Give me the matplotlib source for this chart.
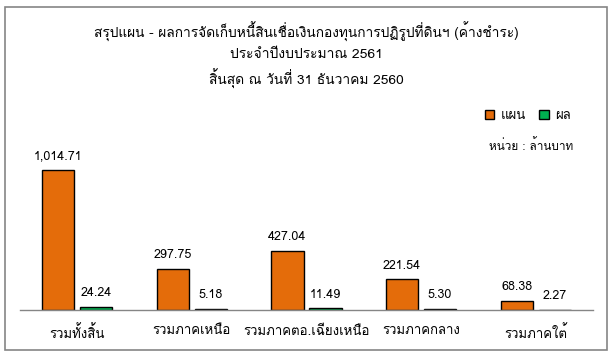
import matplotlib
matplotlib.use("Agg")
import matplotlib.pyplot as plt
from matplotlib.patches import Rectangle
import numpy as np

categories = ['รวมทั้งสิ้น', 'รวมภาคเหนือ', 'รวมภาคตอ.เฉียงเหนือ', 'รวมภาคกลาง', 'รวมภาคใต้']
plan = [1014.71, 297.75, 427.04, 221.54, 68.38]
result = [24.24, 5.18, 11.49, 5.30, 2.27]
series_names = ['แผน', 'ผล']
title_lines = ['สรุปแผน - ผลการจัดเก็บหนี้สินเชื่อเงินกองทุนการปฏิรูปที่ดินฯ (ค้างชำระ)',
               'ประจำปีงบประมาณ 2561',
               'สิ้นสุด ณ วันที่ 31 ธันวาคม 2560']
unit_text = 'หน่วย : ล้านบาท'

FONT = ['Loma', 'Noto Sans Thai Looped', 'DejaVu Sans']
plt.rcParams['font.family'] = FONT

W, H = 613, 356
fig = plt.figure(figsize=(W / 100, H / 100), dpi=100)
fig.patch.set_facecolor('white')

# outer chart border
fig.patches.append(Rectangle((5 / W, 1 - 350 / H), 602 / W, 343 / H, transform=fig.transFigure,
                             fill=False, edgecolor='#858585', linewidth=1.2))

ax = fig.add_axes([20 / W, 1 - 310 / H, 573 / W, 160 / H])
x = np.arange(len(categories))
bw = 0.28
off = 0.166
b1 = ax.bar(x - off, plan, bw, color='#E46C0A', edgecolor='black', linewidth=1.0, label=series_names[0])
b2 = ax.bar(x + off, result, bw, color='#00B050', edgecolor='black', linewidth=1.0, label=series_names[1])

ax.set_xlim(-0.5, len(categories) - 0.5)
ax.set_ylim(0, 160 / (140 / 1014.71))
for s in ['top', 'right', 'left']:
    ax.spines[s].set_visible(False)
ax.spines['bottom'].set_color('#858585')
ax.spines['bottom'].set_linewidth(1.0)
ax.set_yticks([])
ax.set_xticks(x)
ax.set_xticklabels(categories, fontsize=9.5)
ax.tick_params(axis='x', length=0, pad=11)

for bars, vals in ((b1, plan), (b2, result)):
    for rect, v in zip(bars, vals):
        ax.annotate(f'{v:,.2f}', (rect.get_x() + rect.get_width() / 2, rect.get_height()),
                    xytext=(0, 10), textcoords='offset points', ha='center', va='center',
                    fontsize=9)

# title lines, sized to the widths seen in the reference
renderer = fig.canvas.get_renderer()
for line, yy, target_w in zip(title_lines, (32, 55, 79), (426, 153, 195)):
    t = fig.text(306 / W, 1 - yy / H, line, ha='center', va='center', fontsize=10)
    w = t.get_window_extent(renderer).width
    t.set_fontsize(10 * target_w / w)

fig.legend(handles=[b1, b2], loc='center right', bbox_to_anchor=(571 / W, 1 - 116 / H),
           ncol=2, frameon=False, fontsize=9.5, handlelength=0.7, handleheight=0.7,
           handletextpad=0.5, columnspacing=1.0, borderaxespad=0, borderpad=0)

fig.text(573 / W, 1 - 145 / H, unit_text, ha='right', va='center', fontsize=8.5)

fig.savefig('out.png', dpi=100, facecolor='white')
